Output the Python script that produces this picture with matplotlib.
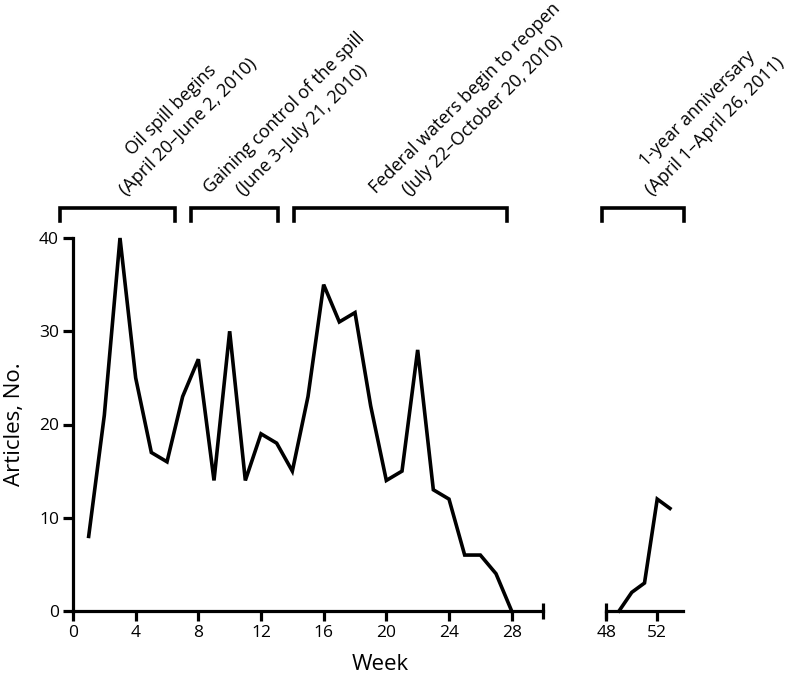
import matplotlib
matplotlib.use('Agg')
import matplotlib.pyplot as plt
from matplotlib.transforms import blended_transform_factory, offset_copy

plt.rcParams['font.family'] = ['Open Sans', 'DejaVu Sans']

# ---- data ----
weeks_2010 = list(range(1, 29))
articles_2010 = [8, 21, 40, 25, 17, 16, 23, 27, 14, 30, 14, 19, 18, 15,
                 23, 35, 31, 32, 22, 14, 15, 28, 13, 12, 6, 6, 4, 0]
weeks_2011 = [49, 50, 51, 52, 53]
articles_2011 = [0, 2, 3, 12, 11]

xticks_left = [0, 4, 8, 12, 16, 20, 24, 28]
xticks_right = [48, 52]
yticks = [0, 10, 20, 30, 40]

phase_titles = [
    "Oil spill begins",
    "Gaining control of the spill",
    "Federal waters begin to reopen",
    "1-year anniversary",
]
phase_dates = [
    "(April 20\u2013June 2, 2010)",
    "(June 3\u2013July 21, 2010)",
    "(July 22\u2013October 20, 2010)",
    "(April 1\u2013April 26, 2011)",
]
phase_starts = [-0.83, 7.5, 14.1, 47.7]
phase_ends = [6.5, 13.1, 27.7, 54.1]

# ---- figure ----
W, H = 790, 680
fig = plt.figure(figsize=(W / 100, H / 100), dpi=100)
y0, y1 = 611, 238
ax1 = fig.add_axes([73 / W, (H - y0) / H, 470 / W, (y0 - y1) / H])
ax2 = fig.add_axes([606.3 / W, (H - y0) / H, 76.4 / W, (y0 - y1) / H])

lw_sp = 2.3
for ax in (ax1, ax2):
    ax.set_ylim(0, 40)
    ax.spines['top'].set_visible(False)
    ax.spines['right'].set_visible(False)
    ax.spines['bottom'].set_linewidth(lw_sp)
    ax.spines['left'].set_linewidth(lw_sp)
    ax.tick_params(axis='both', which='major', length=7, width=lw_sp,
                   labelsize=12.5, direction='out', pad=3)
    ax.tick_params(axis='x', which='minor', length=11, width=lw_sp,
                   direction='inout')
    ax.xaxis.remove_overlapping_locs = False

ax1.set_xlim(0, 30)
ax1.set_xticks(xticks_left)
ax1.set_xticks([30], minor=True)
ax1.set_yticks(yticks)
ax1.plot(weeks_2010, articles_2010, color='black', lw=2.6,
         solid_joinstyle='miter', clip_on=False, zorder=5)

ax2.set_xlim(48, 54)
ax2.set_xticks(xticks_right)
ax2.set_xticks([48], minor=True)
ax2.spines['left'].set_visible(False)
ax2.tick_params(axis='y', left=False, labelleft=False)
ax2.plot(weeks_2011, articles_2011, color='black', lw=2.6,
         solid_joinstyle='miter', clip_on=False, zorder=5)

# ---- phase brackets with two-line rotated labels ----
renderer = fig.canvas.get_renderer()
FS = 13
LS = 24.0      # perpendicular distance between baselines, px
DX = 8.5       # px shift of date line start from bracket centre
R = 0.70710678


def text_width(s):
    t = fig.text(0, 0, s, fontsize=FS)
    w = t.get_window_extent(renderer).width
    t.remove()
    return w


ytop, ybot = 1.0804, 1.0456
ytext = 1.113
for title, date, s, e in zip(phase_titles, phase_dates, phase_starts, phase_ends):
    ax = ax2 if s >= 40 else ax1
    tr = blended_transform_factory(ax.transData, ax.transAxes)
    ax.plot([s, s, e, e], [ybot, ytop, ytop, ybot], color='black', lw=2.6,
            transform=tr, clip_on=False, solid_joinstyle='miter')
    c = (s + e) / 2
    # date line (lower), starts near bracket centre
    t2 = offset_copy(tr, fig=fig, x=DX, y=0, units='dots')
    ax.text(c, ytext, date, transform=t2, rotation=45, rotation_mode='anchor',
            ha='left', va='baseline', fontsize=FS, clip_on=False)
    # title line (upper), centred on the date line
    w2 = text_width(date)
    cx = DX + w2 / 2 * R - LS * R
    cy = w2 / 2 * R + LS * R
    t1 = offset_copy(tr, fig=fig, x=cx, y=cy, units='dots')
    ax.text(c, ytext, title, transform=t1, rotation=45, rotation_mode='anchor',
            ha='center', va='baseline', fontsize=FS, clip_on=False)

fig.text(380 / W, (H - 664) / H, 'Week', ha='center', va='center', fontsize=16)
fig.text(15 / W, (H - 424.5) / H, 'Articles, No.', ha='center', va='center',
         rotation=90, fontsize=16)

fig.savefig('out.png', dpi=100)
